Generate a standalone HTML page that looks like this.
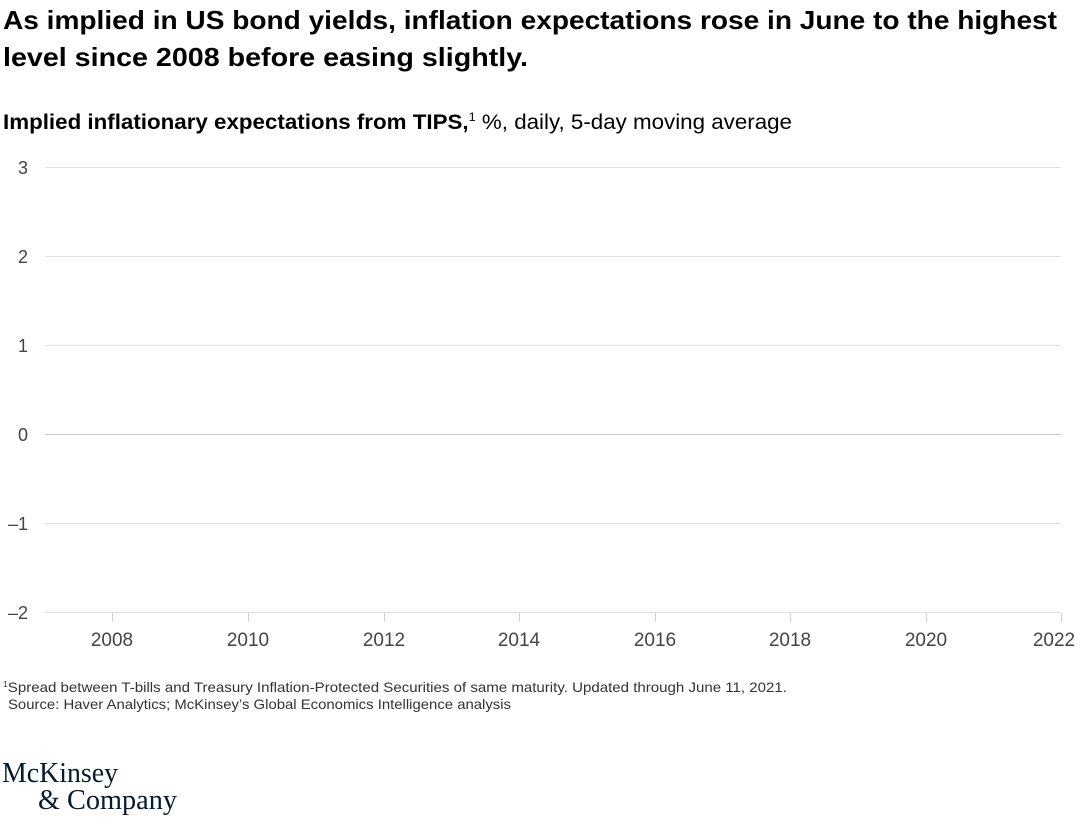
<!DOCTYPE html>
<html><head><meta charset="utf-8"><style>
body{margin:0;background:#fff;width:1080px;height:819px;overflow:hidden;font-family:"Liberation Sans",sans-serif;}
</style></head><body>
<svg width="1080" height="819" xmlns="http://www.w3.org/2000/svg" font-family="Liberation Sans, sans-serif">
<text x="3" y="29" font-size="26" font-weight="bold" fill="#000" textLength="1054" lengthAdjust="spacingAndGlyphs">As implied in US bond yields, inflation expectations rose in June to the highest</text>
<text x="3" y="66" font-size="26" font-weight="bold" fill="#000" textLength="525" lengthAdjust="spacingAndGlyphs">level since 2008 before easing slightly.</text>
<text x="3" y="129" font-size="21" fill="#000" textLength="789" lengthAdjust="spacingAndGlyphs"><tspan font-weight="bold">Implied inflationary expectations from TIPS,</tspan><tspan font-size="12" dy="-8">1</tspan><tspan dy="8"> %, daily, 5-day moving average</tspan></text>
<g stroke="#e0e0e0" stroke-width="1">
<line x1="45" y1="167.5" x2="1061" y2="167.5"/>
<line x1="45" y1="256.5" x2="1061" y2="256.5"/>
<line x1="45" y1="345.5" x2="1061" y2="345.5"/>
<line x1="45" y1="523.5" x2="1061" y2="523.5"/>
<line x1="45" y1="612.5" x2="1061" y2="612.5"/>
</g>
<line x1="45" y1="434.5" x2="1061" y2="434.5" stroke="#c8c8c8"/>
<g stroke="#d0d0d0">
<line x1="112.5" y1="613" x2="112.5" y2="622"/><line x1="248.5" y1="613" x2="248.5" y2="622"/>
<line x1="384.5" y1="613" x2="384.5" y2="622"/><line x1="519.5" y1="613" x2="519.5" y2="622"/>
<line x1="655.5" y1="613" x2="655.5" y2="622"/><line x1="790.5" y1="613" x2="790.5" y2="622"/>
<line x1="926.5" y1="613" x2="926.5" y2="622"/><line x1="1061.5" y1="613" x2="1061.5" y2="622"/>
</g>
<g font-size="18" fill="#444">
<text x="28" y="174" text-anchor="end">3</text>
<text x="28" y="263" text-anchor="end">2</text>
<text x="28" y="352" text-anchor="end">1</text>
<text x="28" y="441" text-anchor="end">0</text>
<text x="28" y="530" text-anchor="end">–1</text>
<text x="28" y="619" text-anchor="end">–2</text>
</g>
<g font-size="19" fill="#444" text-anchor="middle">
<text x="112" y="646">2008</text><text x="248" y="646">2010</text><text x="384" y="646">2012</text>
<text x="519" y="646">2014</text><text x="655" y="646">2016</text><text x="790" y="646">2018</text>
<text x="926" y="646">2020</text><text x="1054" y="646">2022</text>
</g>
<text x="3" y="692" font-size="14" fill="#333" textLength="784" lengthAdjust="spacingAndGlyphs"><tspan font-size="8" dy="-5">1</tspan><tspan dy="5">Spread between T-bills and Treasury Inflation-Protected Securities of same maturity. Updated through June 11, 2021.</tspan></text>
<text x="8" y="709" font-size="14" fill="#333" textLength="503" lengthAdjust="spacingAndGlyphs">Source: Haver Analytics; McKinsey’s Global Economics Intelligence analysis</text>
<text x="2" y="782" font-size="28" font-family="Liberation Serif, serif" fill="#051c2c" textLength="116" lengthAdjust="spacingAndGlyphs">McKinsey</text>
<text x="38" y="809" font-size="28" font-family="Liberation Serif, serif" fill="#051c2c" textLength="139" lengthAdjust="spacingAndGlyphs">&amp; Company</text>
</svg>
</body></html>
